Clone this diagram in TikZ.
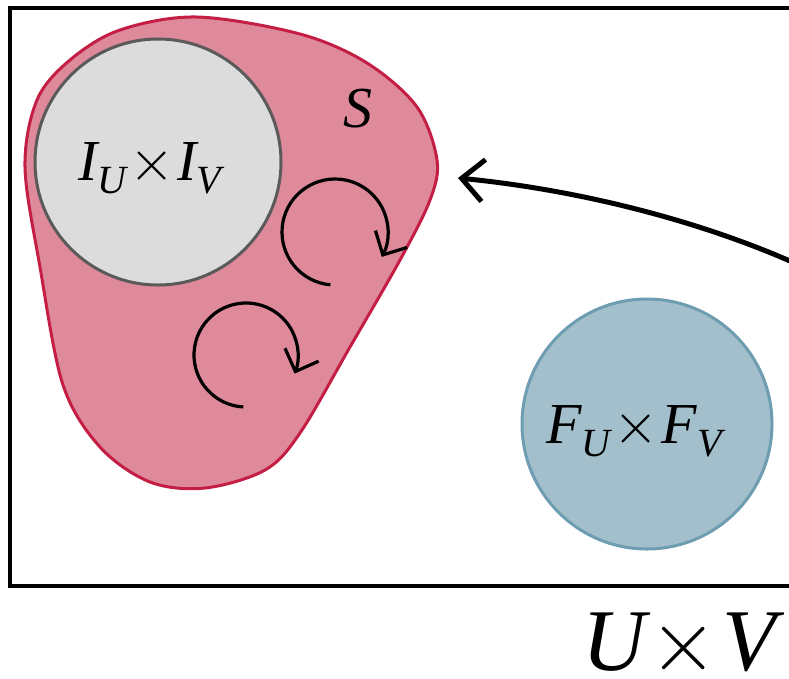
\RequirePackage{fix-cm}
\documentclass[tikz,border=0pt]{standalone}
\usepackage{fontspec}
\setmainfont{Liberation Serif}
\usetikzlibrary{arrows.meta}
\definecolor{blobfill}{HTML}{DE8A9A}
\definecolor{blobline}{HTML}{C41E45}
\definecolor{grayfill}{HTML}{DCDCDC}
\definecolor{grayline}{HTML}{5A5A5A}
\definecolor{bluefill}{HTML}{A3BFCB}
\definecolor{blueline}{HTML}{6E9DB2}
\newcommand{\mysub}[1]{\raisebox{-13pt}{\fontsize{40}{40}\selectfont\itshape #1}}
\newcommand{\mytimes}{\hspace{3pt}$\times$\hspace{3pt}}
\begin{document}
\begin{tikzpicture}[x=1pt,y=-1pt,
  setcircle/.style={circle, line width=3pt, minimum size=248pt, inner sep=0pt},
  mathlabel/.style={inner sep=0pt, anchor=base west, font=\fontsize{58}{58}\selectfont},
  looparrow/.style={line width=3.2pt, -{Straight Barb[length=18pt,width=36pt,line width=3.2pt]}},
  bigarrow/.style={line width=5pt, -{Straight Barb[length=22pt,width=42pt,line width=5pt]}},
]
\useasboundingbox (0,0) rectangle (789,678);
\clip (0,0) rectangle (789,678);
% universe frame
\draw[line width=4pt] (10,8) rectangle (860,586);
% blob S
\draw[fill=blobfill, draw=blobline, line width=3pt]
  plot[smooth cycle, tension=0.55] coordinates {
  (197,17) (300,34) (367,63) (417,107) (437,160) (430,200) (400,260) (350,347)
  (300,433) (265,470) (205,488) (150,482) (100,447) (63,385) (40,267) (25,167)
  (37,100) (70,60) (120,30)};
% gray circle
\node[setcircle, fill=grayfill, draw=grayline, minimum size=246pt] (init) at (158,162) {};
\node[mathlabel] (initlbl) at (78,180) {\itshape I\mysub{U}\mytimes\itshape I\mysub{V}};
% label S
\node[mathlabel] (slbl) at (343,127) {\itshape S};
% blue circle
\node[setcircle, fill=bluefill, draw=blueline, minimum size=250pt] (fin) at (647,424) {};
\node[mathlabel] (finlbl) at (546,443) {\itshape F\mysub{U}\mytimes\itshape F\mysub{V}};
% loops
\coordinate (c1) at (335,232);
\coordinate (c2) at (246,355);
\draw[looparrow] (c1) ++(95:53) arc[start angle=95, end angle=388, radius=53];
\draw[looparrow] (c2) ++(93:52) arc[start angle=93, end angle=381, radius=52];
% big arrow
\coordinate (src) at (840,285);
\coordinate (tip) at (458,178);
\draw[bigarrow] (src) .. controls (740,232) and (600,192) .. (tip);
% universe label
\node[inner sep=0pt, anchor=base west, font=\fontsize{88}{88}\selectfont] (ulbl) at (582,670)
  {\itshape U\hspace{4pt}$\times$\hspace{4pt}\itshape V};
\end{tikzpicture}
\end{document}
